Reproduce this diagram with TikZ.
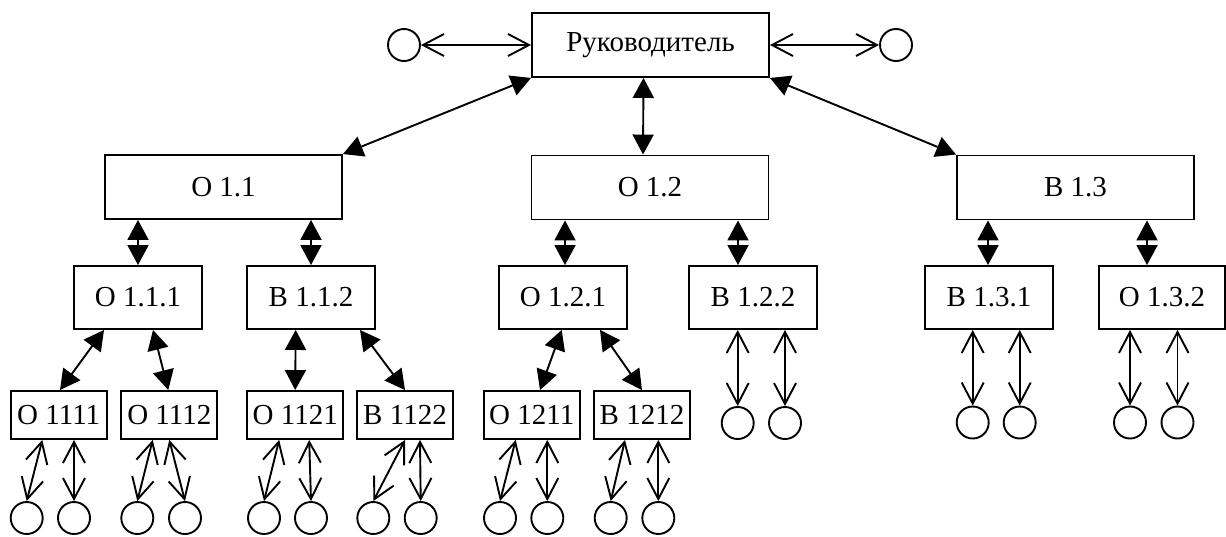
\documentclass[tikz,border=0pt]{standalone}
\usepackage{fontspec}
\setmainfont{Liberation Serif}
\usetikzlibrary{arrows.meta,calc}
\begin{document}
\begin{tikzpicture}[x=1pt,y=-1pt,
 box/.style={draw,line width=1.9pt,rectangle,inner sep=0pt,font=\fontsize{29}{31}\selectfont},
 btop/.style={box,minimum width=237pt,minimum height=64pt},
 bmid/.style={box,minimum width=128pt,minimum height=63pt},
 blow/.style={box,minimum width=96pt,minimum height=48pt},
 ext/.style={draw,circle,line width=1.9pt,minimum size=32pt,inner sep=0pt},
 fa/.style={line width=1.9pt,{Triangle[length=20pt,width=21pt]}-{Triangle[length=20pt,width=21pt]}},
 oa/.style={line width=1.9pt,{Straight Barb[length=21pt,width=22pt]}-{Straight Barb[length=21pt,width=22pt]}}
]
\useasboundingbox (0,0) rectangle (1226,536);
% boxes
\node[btop] (R) at (650.5,45) {Руководитель};
\node[btop] (O11) at (223.5,187) {О 1.1};
\node[btop] (O12) at (650,187.5) {О 1.2};
\node[btop] (B13) at (1075.5,187.5) {В 1.3};
\node[bmid] (O111) at (138,297.5) {О 1.1.1};
\node[bmid] (B112) at (311,297.5) {В 1.1.2};
\node[bmid] (O121) at (563,297.5) {О 1.2.1};
\node[bmid] (B122) at (753,297.5) {В 1.2.2};
\node[bmid] (B131) at (989,297.5) {В 1.3.1};
\node[bmid,minimum width=126pt] (O132) at (1162,297.5) {О 1.3.2};
\node[blow] (O1111) at (58.7,415) {О 1111};
\node[blow] (O1112) at (169.3,415) {О 1112};
\node[blow] (O1121) at (295.2,415) {О 1121};
\node[blow] (B1122) at (405,415) {В 1122};
\node[blow] (O1211) at (531.7,415) {О 1211};
\node[blow] (B1212) at (642,415) {В 1212};
% circles
\node[ext] (cl) at (404,45) {};
\node[ext] (cr) at (896,45) {};
\node[ext] (c1) at (26.7,518) {};
\node[ext] (c2) at (74,518) {};
\node[ext] (c3) at (137.3,518) {};
\node[ext] (c4) at (185,518) {};
\node[ext] (c5) at (264,518) {};
\node[ext] (c6) at (311,518) {};
\node[ext] (c7) at (373.3,518) {};
\node[ext] (c8) at (420.7,518) {};
\node[ext] (c9) at (500,518) {};
\node[ext] (c10) at (547.3,518) {};
\node[ext] (c11) at (610.7,518) {};
\node[ext] (c12) at (658.3,518) {};
\node[ext] (d1) at (737.7,423) {};
\node[ext] (d2) at (785,423) {};
\node[ext] (d3) at (972.7,422.5) {};
\node[ext] (d4) at (1019.7,422.5) {};
\node[ext] (d5) at (1130,422.5) {};
\node[ext] (d6) at (1177.5,422.5) {};
% top links
\draw[oa] (cl.east) -- (R.west);
\draw[oa] (R.east) -- (cr.west);
\draw[fa] (R.south west) -- (O11.north east);
\draw[fa] ([xshift=-7pt]R.south) -- ([xshift=-7pt]O12.north);
\draw[fa] (R.south east) -- (B13.north west);
% level 2 -> 3
\draw[fa] (O111.north |- O11.south) -- (O111.north);
\draw[fa] (B112.north |- O11.south) -- (B112.north);
\draw[fa] ([xshift=2pt]O121.north |- O12.south) -- ([xshift=2pt]O121.north);
\draw[fa] ([xshift=-15pt]B122.north |- O12.south) -- ([xshift=-15pt]B122.north);
\draw[fa] ([xshift=-1pt]B131.north |- B13.south) -- ([xshift=-1pt]B131.north);
\draw[fa] ([xshift=-15pt]O132.north |- B13.south) -- ([xshift=-15pt]O132.north);
% level 3 -> 4
\draw[fa] ([xshift=-34pt]O111.south) -- ([xshift=1.3pt]O1111.north);
\draw[fa] ([xshift=15pt]O111.south) -- ([xshift=-1pt]O1112.north);
\draw[fa] ([xshift=-15.3pt]B112.south) -- (O1121.north);
\draw[fa] ([xshift=49pt]B112.south) -- (B1122.north);
\draw[fa] ([xshift=-1.3pt]O121.south) -- ([xshift=8.3pt]O1211.north);
\draw[fa] ([xshift=37pt]O121.south) -- (B1212.north);
% level 4 -> circles
\draw[oa] ([xshift=-16.4pt]O1111.south) -- (c1.north);
\draw[oa] ([xshift=15.3pt]O1111.south) -- (c2.north);
\draw[oa] ([xshift=-16.6pt]O1112.south) -- (c3.north);
\draw[oa] (O1112.south) -- (c4.north);
\draw[oa] ([xshift=-16pt]O1121.south) -- (c5.north);
\draw[oa] ([xshift=14pt]O1121.south) -- (c6.north);
\draw[oa] (B1122.south) -- (c7.north);
\draw[oa] ([xshift=15pt]B1122.south) -- (c8.north);
\draw[oa] ([xshift=-16pt]O1211.south) -- (c9.north);
\draw[oa] ([xshift=15.6pt]O1211.south) -- (c10.north);
\draw[oa] ([xshift=-17pt]B1212.south) -- (c11.north);
\draw[oa] ([xshift=16.3pt]B1212.south) -- (c12.north);
% level 3 -> circles
\draw[oa] (d1.north |- B122.south) -- (d1.north);
\draw[oa] (d2.north |- B122.south) -- (d2.north);
\draw[oa] (d3.north |- B131.south) -- (d3.north);
\draw[oa] (d4.north |- B131.south) -- (d4.north);
\draw[oa] (d5.north |- O132.south) -- (d5.north);
\draw[oa] (d6.north |- O132.south) -- (d6.north);
\end{tikzpicture}
\end{document}
